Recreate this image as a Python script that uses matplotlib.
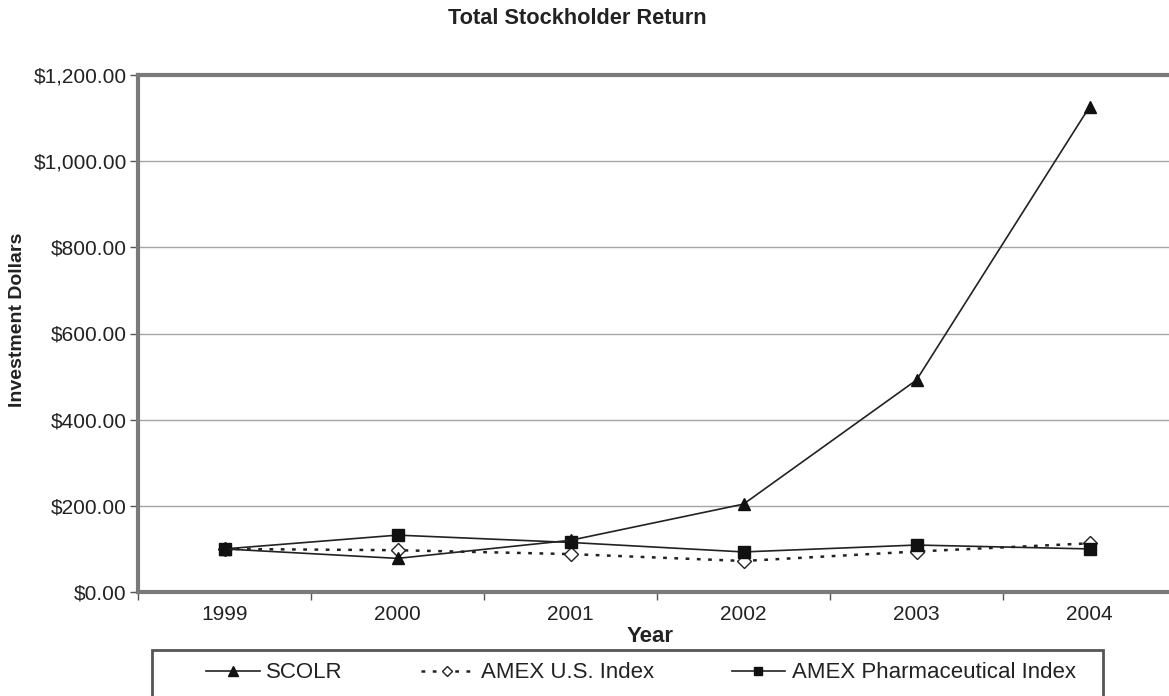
import matplotlib
matplotlib.use("Agg")
import matplotlib.pyplot as plt
from matplotlib.patches import Rectangle
from matplotlib.ticker import FuncFormatter, FixedLocator

plt.rcParams['font.family'] = ['Liberation Sans', 'DejaVu Sans']

years = ["1999", "2000", "2001", "2002", "2003", "2004"]
scolr = [100, 78, 120, 204, 492, 1126]
amex_us = [100, 97, 88, 72, 94, 113]
amex_pharma = [100, 132, 115, 93, 109, 100]

fig = plt.figure(figsize=(11.69, 6.96), dpi=100)
ax = fig.add_axes([138/1169, 104/696, (1176-138)/1169, (592-75)/696])

x = list(range(len(years)))
ax.plot(x, amex_us, color='#222222', linestyle=(0, (1.5, 3)), linewidth=1.8,
        marker='D', markersize=7, markerfacecolor='white', markeredgecolor='#222222',
        markeredgewidth=1.0, label='AMEX U.S. Index', zorder=3)
ax.plot(x, amex_pharma, color='#222222', linewidth=1.2, marker='s', markersize=8,
        markerfacecolor='#111111', markeredgecolor='#111111', label='AMEX Pharmaceutical Index', zorder=4)
ax.plot(x, scolr, color='#222222', linewidth=1.2, marker='^', markersize=9,
        markerfacecolor='#111111', markeredgecolor='#111111', label='SCOLR', zorder=5)

ax.set_xlim(-0.5, 5.5)
ax.set_ylim(0, 1200)
ax.set_yticks([0, 200, 400, 600, 800, 1000, 1200])
ax.yaxis.set_major_formatter(FuncFormatter(lambda v, p: "${:,.2f}".format(v)))
ax.set_xticks(x)
ax.set_xticklabels(years)
ax.xaxis.set_minor_locator(FixedLocator([i + 0.5 for i in range(-1, 6)]))
ax.tick_params(axis='x', which='major', length=0, pad=9, labelsize=15, colors='#222222')
ax.tick_params(axis='x', which='minor', length=6, width=1, color='#555555')
ax.tick_params(axis='y', length=6, width=1, color='#555555', pad=2, labelsize=15, labelcolor='#222222')

ax.grid(axis='y', color='#a5a5a5', linewidth=1.0)
ax.set_axisbelow(True)
for side in ['left', 'bottom', 'top']:
    ax.spines[side].set_color('#7a7a7a')
    ax.spines[side].set_linewidth(3)
ax.spines['right'].set_visible(False)

ax.set_xlabel('Year', fontsize=16, fontweight='bold', color='#222222')
ax.xaxis.set_label_coords((650-138)/1038, -(636-592)/517, transform=ax.transAxes)
ax.xaxis.label.set_va('center')
fig.text(18/1169, 1 - 320/696, 'Investment Dollars', rotation=90, fontsize=14,
         fontweight='bold', color='#222222', ha='center', va='center')
fig.text(577/1169, 1 - 19/696, 'Total Stockholder Return', fontsize=15.7,
         fontweight='bold', color='#222222', ha='center', va='center')

# legend frame
fig.patches.append(Rectangle((152/1169, -0.02), (1103-152)/1169, (696-650)/696 + 0.02,
                             transform=fig.transFigure, fill=False, edgecolor='#555555', linewidth=2))
h, l = ax.get_legend_handles_labels()
order = [2, 0, 1]
leg = fig.legend([h[i] for i in order], [l[i] for i in order], loc='center',
                 bbox_to_anchor=(641/1169, 1 - 673/696), ncol=3, frameon=False,
                 fontsize=16, handlelength=2.4, columnspacing=3.5, handletextpad=0.3,
                 markerscale=0.8)
for t in leg.get_texts():
    t.set_color('#222222')

fig.savefig('out.png', dpi=100)
